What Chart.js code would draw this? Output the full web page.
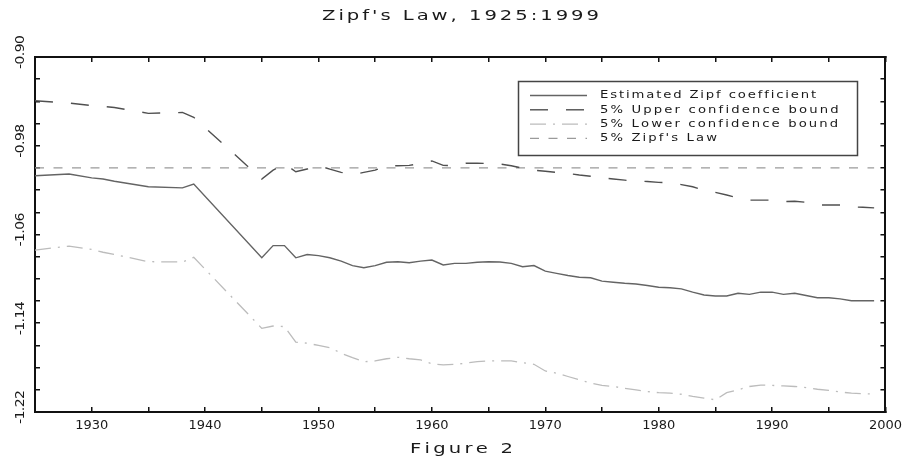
<!DOCTYPE html>
<html>
<head>
<meta charset="utf-8">
<script src="https://cdn.jsdelivr.net/npm/chart.js@4.4.0/dist/chart.umd.min.js"></script>
<style>
  html, body { margin: 0; padding: 0; background: #fff; }
</style>
</head>
<body>
<canvas id="zipfChart" width="913" height="459"></canvas>
<script>
// years with an estimate (nothing between 1940 and 1944)
const years = [1925, 1928, 1930, 1931, 1932, 1935, 1938, 1939,
  1945, 1946, 1947, 1948, 1949, 1950, 1951, 1952, 1953, 1954,
  1955, 1956, 1957, 1958, 1959, 1960, 1961, 1962, 1963, 1964,
  1965, 1966, 1967, 1968, 1969, 1970, 1971, 1972, 1973, 1974,
  1975, 1976, 1977, 1978, 1979, 1980, 1981, 1982, 1983, 1984,
  1985, 1986, 1987, 1988, 1989, 1990, 1991, 1992, 1993, 1994,
  1995, 1996, 1997, 1998, 1999];

const estimated = [-1.007, -1.0055, -1.009, -1.010, -1.012, -1.017, -1.018, -1.0145,
  -1.081, -1.070, -1.070, -1.081, -1.078, -1.079, -1.081, -1.084, -1.088, -1.090,
  -1.088, -1.085, -1.0845, -1.0854, -1.084, -1.083, -1.0875, -1.086, -1.086, -1.085,
  -1.0845, -1.0848, -1.086, -1.089, -1.088, -1.093, -1.095, -1.097, -1.0985, -1.099,
  -1.102, -1.103, -1.104, -1.1046, -1.106, -1.1076, -1.108, -1.109, -1.112, -1.1145,
  -1.1154, -1.1154, -1.113, -1.114, -1.112, -1.112, -1.114, -1.113, -1.115, -1.117,
  -1.117, -1.118, -1.1197, -1.1197, -1.1197];

const upperBound = [-0.9394, -0.9415, -0.9438, -0.9445, -0.9455, -0.9508, -0.950, -0.9544,
  -1.010, -1.002, -0.9965, -1.0034, -1.001, -0.998, -1.001, -1.004, -1.006, -1.004,
  -1.002, -0.998, -0.998, -0.9977, -0.996, -0.9937, -0.9977, -0.998, -0.9958, -0.9958,
  -0.996, -0.9965, -0.998, -1.0003, -1.002, -1.003, -1.004, -1.005, -1.0064, -1.0075,
  -1.009, -1.010, -1.011, -1.012, -1.0122, -1.013, -1.0133, -1.015, -1.017, -1.020,
  -1.022, -1.0244, -1.027, -1.029, -1.029, -1.029, -1.0304, -1.030, -1.031, -1.0334,
  -1.0334, -1.0334, -1.035, -1.0355, -1.036];

const lowerBound = [-1.074, -1.0705, -1.0735, -1.076, -1.078, -1.0845, -1.0848, -1.0806,
  -1.1446, -1.1425, -1.143, -1.157, -1.158, -1.160, -1.162, -1.167, -1.171, -1.1747,
  -1.174, -1.172, -1.1707, -1.172, -1.173, -1.1765, -1.1776, -1.177, -1.176, -1.1745,
  -1.174, -1.174, -1.174, -1.1755, -1.177, -1.183, -1.185, -1.188, -1.191, -1.194,
  -1.196, -1.197, -1.1986, -1.200, -1.2015, -1.2026, -1.203, -1.204, -1.206, -1.2075,
  -1.209, -1.2026, -1.200, -1.197, -1.1957, -1.196, -1.1965, -1.197, -1.198, -1.1995,
  -1.2005, -1.202, -1.203, -1.2035, -1.2038];

const zipfYears = [1925, 1999];
const zipfLaw = [-1.00, -1.00];

const yLabelValues = [-0.90, -0.98, -1.06, -1.14, -1.22];

const FONT = '"DejaVu Sans", sans-serif';

function toPoints(xs, ys) {
  return xs.map((x, i) => ({ x: x, y: ys[i] }));
}

// the old plot font is wide: stretch the glyphs, then spread what is left
function drawWide(ctx, text, x, y, width, stretch) {
  const natural = ctx.measureText(text).width;
  const spacing = (width / stretch - natural) / Math.max(1, text.length - 1);
  ctx.save();
  ctx.translate(x, y);
  ctx.scale(stretch, 1);
  let cx = 0;
  for (const ch of text) {
    ctx.fillText(ch, cx, 0);
    cx += ctx.measureText(ch).width + spacing;
  }
  ctx.restore();
}

const decorations = {
  id: 'decorations',
  afterDraw(chart) {
    const ctx = chart.ctx;
    ctx.save();
    ctx.fillStyle = '#1a1a1a';
    ctx.textBaseline = 'middle';

    // title and caption
    ctx.font = '14px ' + FONT;
    drawWide(ctx, "Zipf's Law, 1925:1999", 322, 16, 277, 1.4);
    drawWide(ctx, 'Figure 2', 410, 449, 101, 1.4);

    // rotated y labels
    const ys = chart.scales.y;
    ctx.font = '13px ' + FONT;
    yLabelValues.forEach(v => {
      const lab = v.toFixed(2);
      ctx.save();
      ctx.translate(21, ys.getPixelForValue(v) - 5);
      ctx.rotate(-Math.PI / 2);
      drawWide(ctx, lab, -17, 0, 34, 1.08);
      ctx.restore();
    });

    // legend box
    ctx.strokeStyle = '#444';
    ctx.lineWidth = 1.5;
    ctx.strokeRect(518.5, 81.5, 339, 74);
    ctx.font = '11px ' + FONT;
    const first = chart.data.datasets[0].label;
    const perChar = 216 / ctx.measureText(first).width;
    chart.data.datasets.forEach((ds, i) => {
      const y = 95.5 + i * 14.3;
      ctx.strokeStyle = ds.borderColor;
      ctx.lineWidth = ds.borderWidth;
      ctx.setLineDash(ds.borderDash || []);
      ctx.beginPath();
      ctx.moveTo(530, y);
      ctx.lineTo(587, y);
      ctx.stroke();
      ctx.setLineDash([]);
      ctx.fillStyle = '#1a1a1a';
      const w = ctx.measureText(ds.label).width * perChar;
      drawWide(ctx, ds.label, 600, y, w, 1.2);
    });
    ctx.restore();
  }
};

const tickGrid = {
  display: true,
  drawOnChartArea: false,
  drawTicks: true,
  tickLength: -5,
  color: '#111',
  tickColor: '#111',
  lineWidth: 1.5
};
const frame = { display: true, color: '#111', width: 2 };

new Chart(document.getElementById('zipfChart'), {
  type: 'line',
  data: {
    datasets: [
      {
        label: 'Estimated Zipf coefficient',
        data: toPoints(years, estimated),
        borderColor: '#646464',
        borderWidth: 1.4
      },
      {
        label: '5% Upper confidence bound',
        data: toPoints(years, upperBound),
        borderColor: '#505050',
        borderWidth: 1.4,
        borderDash: [18, 18]
      },
      {
        label: '5% Lower confidence bound',
        data: toPoints(years, lowerBound),
        borderColor: '#bcbcbc',
        borderWidth: 1.3,
        borderDash: [16, 7, 2, 7]
      },
      {
        label: "5% Zipf's Law",
        data: toPoints(zipfYears, zipfLaw),
        borderColor: '#9a9a9a',
        borderWidth: 1.3,
        borderDash: [9, 9.5]
      }
    ]
  },
  options: {
    responsive: false,
    animation: false,
    devicePixelRatio: 1,
    layout: { padding: { top: 57, right: 26, bottom: 0, left: 0 } },
    elements: {
      point: { radius: 0 },
      line: { tension: 0, fill: false }
    },
    plugins: {
      legend: { display: false },
      title: { display: false },
      tooltip: { enabled: false }
    },
    scales: {
      x: {
        type: 'linear',
        position: 'bottom',
        min: 1925,
        max: 2000,
        afterFit: s => { s.height = 47; },
        grid: tickGrid,
        border: frame,
        ticks: {
          stepSize: 5,
          autoSkip: false,
          maxRotation: 0,
          padding: 11,
          color: '#1a1a1a',
          font: { family: FONT, size: 13 },
          callback: v => (v % 10 === 0 && v > 1925 ? String(v) : '')
        }
      },
      x2: {
        type: 'linear',
        position: 'top',
        min: 1925,
        max: 2000,
        afterFit: s => { s.height = 0; },
        grid: tickGrid,
        border: frame,
        ticks: { display: false, stepSize: 5, autoSkip: false }
      },
      y: {
        type: 'linear',
        position: 'left',
        min: -1.22,
        max: -0.90,
        afterFit: s => { s.width = 35; },
        grid: tickGrid,
        border: frame,
        ticks: { display: false, stepSize: 0.02, autoSkip: false }
      },
      y2: {
        type: 'linear',
        position: 'right',
        min: -1.22,
        max: -0.90,
        afterFit: s => { s.width = 0; },
        grid: tickGrid,
        border: frame,
        ticks: { display: false, stepSize: 0.02, autoSkip: false }
      }
    }
  },
  plugins: [decorations]
});
</script>
</body>
</html>
